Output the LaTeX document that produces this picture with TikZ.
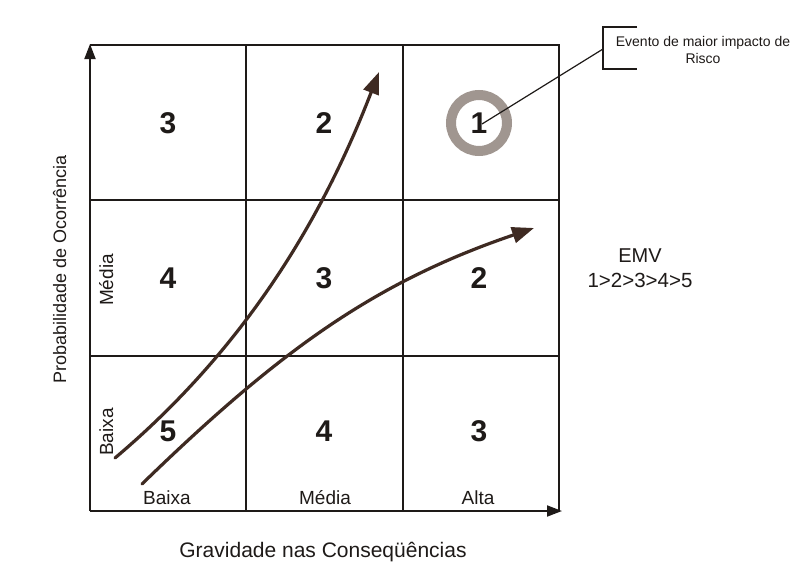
\documentclass[tikz,border=0pt]{standalone}
\usepackage{fontspec}
\setmainfont{Liberation Sans}
\usetikzlibrary{arrows.meta}
\definecolor{ink}{RGB}{30,26,24}
\definecolor{brownink}{RGB}{62,42,34}
\definecolor{ringgray}{RGB}{160,150,144}
\tikzset{
  gridline/.style={draw=ink, line width=1.6pt},
  axisline/.style={draw=ink, line width=1.8pt, -{Triangle[length=15pt,width=11pt]}},
  trend/.style={draw=brownink, line width=3.2pt, line cap=round, -{Triangle[length=22pt,width=16pt]}},
  cellnum/.style={font=\fontsize{30}{32}\selectfont\bfseries, text=ink, inner sep=0pt},
  lbl/.style={font=\fontsize{19}{22}\selectfont, text=ink, inner sep=0pt},
  callout/.style={font=\fontsize{14}{17}\selectfont, text=ink, inner sep=0pt, align=center},
}
\begin{document}
\begin{tikzpicture}[x=1pt,y=-1pt]
\useasboundingbox[fill=white] (0,0) rectangle (807,563);
% grid
\draw[gridline] (90,45) -- (559,45) -- (559,511);
\draw[gridline] (246,45) -- (246,511);
\draw[gridline] (403,45) -- (403,511);
\draw[gridline] (90,200) -- (559,200);
\draw[gridline] (90,356) -- (559,356);
% axes
\coordinate (origin) at (90,511);
\coordinate (ytip) at (90,44);
\coordinate (xtip) at (562,511);
\draw[axisline] (origin) -- (ytip);
\draw[axisline] (origin) -- (xtip);
% ring
\draw[draw=ringgray, line width=10pt] (479,123) circle (28);
% cell numbers
\node[cellnum] (n11) at (168,123) {3};
\node[cellnum] (n12) at (324,123) {2};
\node[cellnum] (n13) at (479,123) {1};
\node[cellnum] (n21) at (168,278) {4};
\node[cellnum] (n22) at (324,278) {3};
\node[cellnum] (n23) at (479,278) {2};
\node[cellnum] (n31) at (168,431) {5};
\node[cellnum] (n32) at (324,431) {4};
\node[cellnum] (n33) at (479,431) {3};
% trend arrows
\coordinate (a1s) at (115,458);
\coordinate (a1e) at (379,72);
\coordinate (a2s) at (142,484);
\coordinate (a2e) at (534,228);
\draw[trend] (a1s) .. controls (250,344) and (325,212) .. (a1e);
\draw[trend] (a2s) .. controls (280,350) and (375,282) .. (a2e);
% axis labels
\node[lbl, anchor=base] (bx) at (167,504) {Baixa};
\node[lbl, anchor=base] (mx) at (325,504) {Média};
\node[lbl, anchor=base] (ax) at (478,504) {Alta};
\node[lbl, anchor=base, rotate=90] (my) at (113,280) {Média};
\node[lbl, anchor=base, rotate=90] (by) at (113,432) {Baixa};
\node[lbl, font=\fontsize{21}{24}\selectfont, anchor=base] (xlab) at (323,557) {Gravidade nas Conseqüências};
\node[lbl, font=\fontsize{18}{22}\selectfont, anchor=base, rotate=90] (ylab) at (66,269) {Probabilidade de Ocorrência};
% EMV
\node[lbl, font=\fontsize{20}{24}\selectfont, anchor=base] (emv) at (640,262) {EMV};
\node[lbl, font=\fontsize{20.5}{24}\selectfont, anchor=base] (order) at (640,287) {1>2>3>4>5};
% callout
\node[callout] (ctext) at (703,50) {Evento de maior impacto de\\Risco};
\coordinate (bt) at (603,27);
\coordinate (bb) at (603,69);
\coordinate (bm) at (603,49);
\draw[draw=ink, line width=1.2pt] (637,27) -- (bt) -- (bb) -- (637,69);
\coordinate (cstart) at (482,124);
\draw[draw=ink, line width=1.2pt] (cstart) -- (bm);
\end{tikzpicture}
\end{document}
